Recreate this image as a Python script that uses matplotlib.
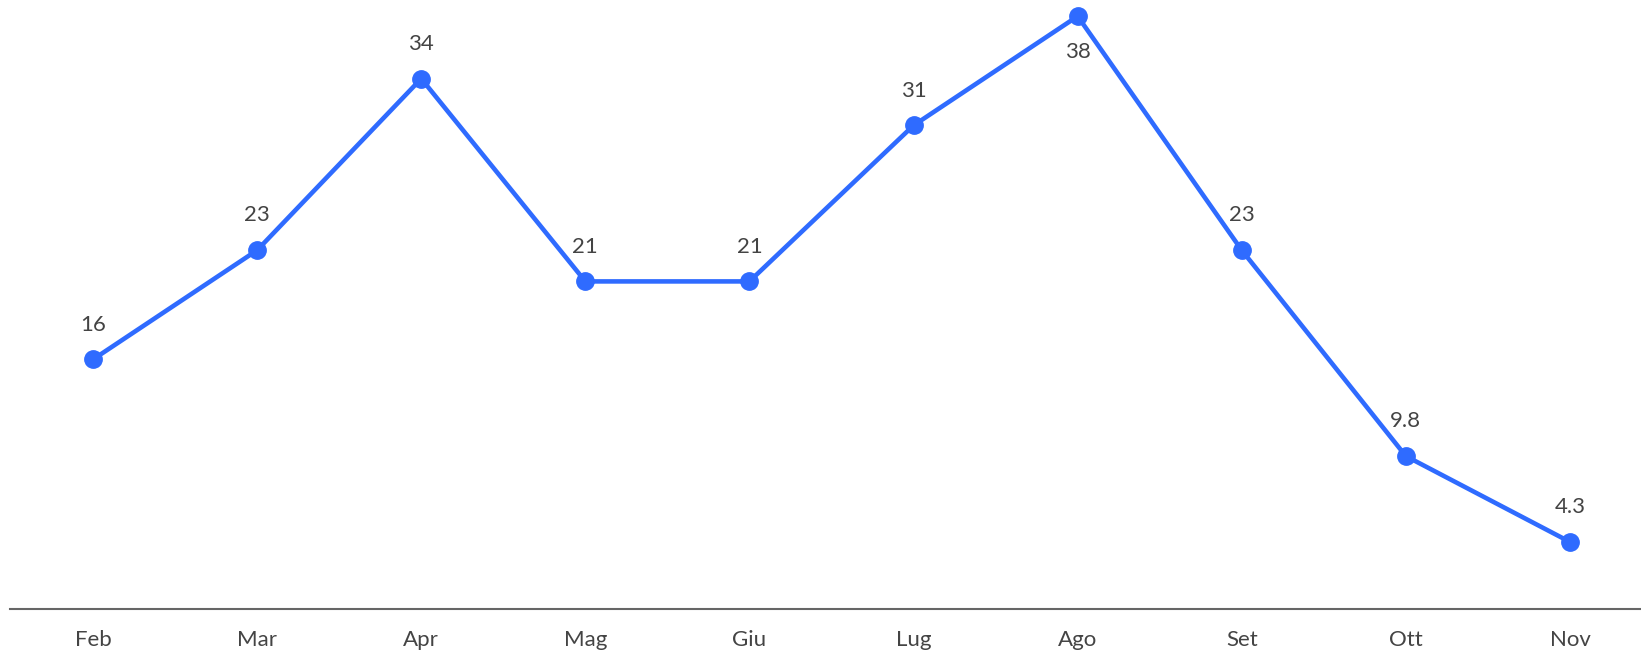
import matplotlib.pyplot as plt

months = ["Feb", "Mar", "Apr", "Mag", "Giu", "Lug", "Ago", "Set", "Ott", "Nov"]
values = [16, 23, 34, 21, 21, 31, 38, 23, 9.8, 4.3]
labels = ["16", "23", "34", "21", "21", "31", "38", "23", "9.8", "4.3"]

plt.rcParams['font.family'] = ['Lato', 'DejaVu Sans']

fig = plt.figure(figsize=(16.41, 6.57), dpi=100)
ax = fig.add_axes([10 / 1641, 48 / 657, 1 - 10 / 1641, 1 - 48 / 657])

x = list(range(len(months)))
ax.plot(x, values, color='#2f6bff', linewidth=3.3, marker='o', markersize=12.5,
        clip_on=False, zorder=3)

top = max(values)
for xi, v, lab in zip(x, values, labels):
    dy = -26 if v == top else 25
    ax.annotate(lab, (xi, v), xytext=(0, dy), textcoords='offset points',
                ha='center', va='center', fontsize=16, color='#444444')

ax.set_xlim(-0.506, 9.433)
ax.set_ylim(0, 39.04)
ax.set_xticks(x)
ax.set_xticklabels(months, fontsize=16, color='#444444')
ax.tick_params(axis='x', length=0, pad=15)
ax.set_yticks([])
for s in ['top', 'right', 'left']:
    ax.spines[s].set_visible(False)
ax.spines['bottom'].set_color('#666666')
ax.spines['bottom'].set_linewidth(1.5)

fig.savefig('out.png', dpi=100)
